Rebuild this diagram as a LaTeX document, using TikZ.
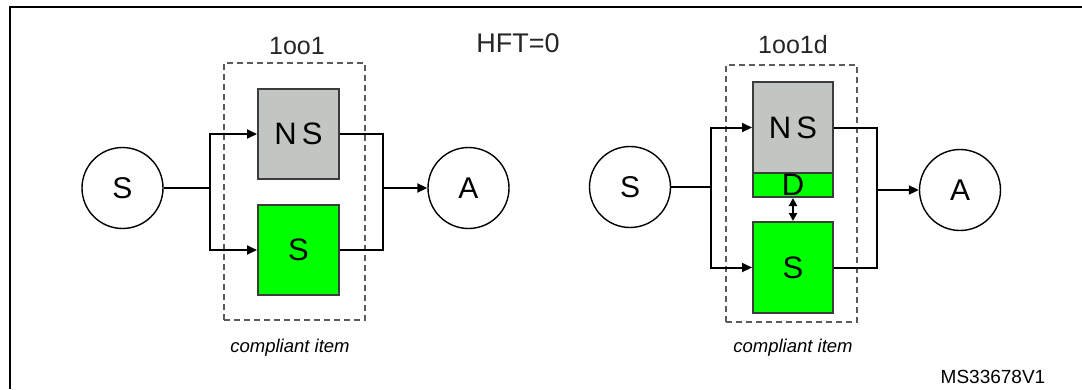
\documentclass[tikz,border=0pt]{standalone}
\usepackage{fontspec}
\setmainfont{Liberation Sans}
\usepackage{xcolor}
\usetikzlibrary{arrows.meta, positioning}

\definecolor{nsgray}{HTML}{C2C6C2}
\definecolor{sgreen}{HTML}{00FF00}
\definecolor{edgegray}{HTML}{3C3C3C}
\definecolor{dashgray}{HTML}{5A5A5A}

\begin{document}
\begin{tikzpicture}[x=1pt, y=-1pt,
    endpoint/.style={draw, circle, line width=1.4pt, minimum size=81pt, inner sep=0pt,
                     font=\fontsize{30}{32}\selectfont},
    chanbox/.style={draw=edgegray, rectangle, line width=2pt, minimum width=81pt,
                    minimum height=90pt, inner sep=0pt, font=\fontsize{31}{33}\selectfont},
    item/.style={draw=dashgray, rectangle, line width=2pt, dash pattern=on 6pt off 4pt,
                 inner sep=0pt},
    title/.style={font=\fontsize{25}{27}\selectfont, text=black!85},
    caption/.style={font=\fontsize{18.5}{20}\selectfont\itshape},
    arrow/.style={-{Triangle[length=10pt, width=9pt]}, line width=2pt},
    link/.style={line width=2pt}
]
\useasboundingbox (0,0) rectangle (1082,389);

% ====================== FRAME ======================
\draw[line width=2.2pt] (10,389) -- (10,7) -- (1082,7);

% ====================== 1oo1 ======================
\node[endpoint] (sL) at (122.5,188) {S};
\node[endpoint] (aL) at (468.5,188) {A};
\node[chanbox, fill=nsgray] (nsL) at (298.5,134) {N\,S};
\node[chanbox, fill=sgreen] (ssL) at (298.5,250) {S};
\node[item, minimum width=141pt, minimum height=257pt] (itemL) at (294.5,191.5) {};
\coordinate (splitL) at (210,188);
\coordinate (mergeL) at (383,188);

\node[title] (archL) at (297,46) {1oo1};
\node[caption] (capL) at (290,348) {compliant item};

\draw[link] (sL) -- (splitL);
\draw[arrow] (splitL) |- (nsL.west);
\draw[arrow] (splitL) |- (ssL.west);
\draw[link] (nsL.east) -| (mergeL);
\draw[link] (ssL.east) -| (mergeL);
\draw[arrow] (mergeL) -- (aL);

% ====================== HFT ======================
\node[title, font=\fontsize{27}{29}\selectfont] (hft) at (518,43) {HFT=0};

% ====================== 1oo1d ======================
\node[endpoint] (sR) at (630,187) {S};
\node[endpoint] (aR) at (960,190) {A};
\node[chanbox, fill=nsgray, minimum width=80pt, minimum height=91pt] (nsR) at (793,127.5) {N\,S};
\node[chanbox, fill=sgreen, minimum width=80pt, minimum height=24pt] (dR) at (793,185) {D};
\node[chanbox, fill=sgreen, minimum width=80pt, minimum height=91pt] (ssR) at (793,267.5) {S};
\node[item, minimum width=131pt, minimum height=257pt] (itemR) at (791.5,193.5) {};
\coordinate (splitR) at (711,187);
\coordinate (mergeR) at (877,190);

\node[title] (archR) at (793,45) {1oo1d};
\node[caption] (capR) at (793,348) {compliant item};

\draw[link] (sR) -- (splitR);
\draw[arrow] (splitR) |- (nsR.west);
\draw[arrow] (splitR) |- (ssR.west);
\draw[link] (nsR.east) -| (mergeR);
\draw[link] (ssR.east) -| (mergeR);
\draw[arrow] (mergeR) -- (aR);
\draw[{Triangle[length=8pt, width=8pt]}-{Triangle[length=8pt, width=8pt]}, line width=2pt]
    (dR.south) -- (ssR.north);

% ====================== ANNOTATIONS ======================
\node[font=\fontsize{19}{21}\selectfont] (ref) at (993,377) {MS33678V1};

\end{tikzpicture}
\end{document}
